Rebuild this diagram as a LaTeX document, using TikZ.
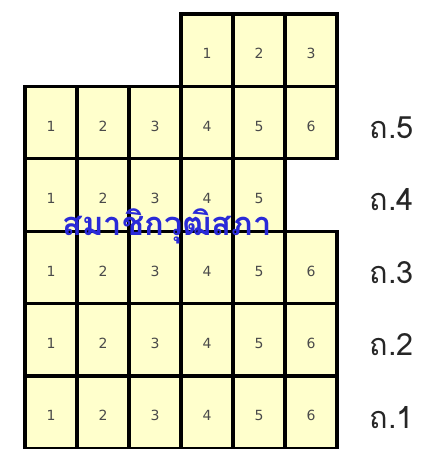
\documentclass[tikz,border=0pt]{standalone}
\usepackage{fontspec}
\newfontfamily\thaifont[Script=Thai]{Loma}
\newfontfamily\numfont{DejaVu Sans}
\usetikzlibrary{positioning}
\definecolor{cellfill}{HTML}{FFFFCC}
\definecolor{numgray}{HTML}{4A4A4A}
\definecolor{senateblue}{HTML}{2A2AD8}

\begin{document}
\begin{tikzpicture}[x=0.75pt, y=0.75pt,
  cell/.style={draw, line width=2.4pt, fill=cellfill, inner sep=0pt,
    minimum width=39pt, minimum height=54.3pt, text height=13pt, text depth=0pt,
    font=\numfont\fontsize{10.5}{12}\selectfont, text=numgray},
  floorlabel/.style={font=\thaifont\fontsize{23}{26}\selectfont,
    text=black!85, anchor=west}]
  \useasboundingbox (-25,-0.6) rectangle (399,448.4);

  % Top row (columns 4-6)
  \foreach \c in {1,2,3}
    \node[cell] (top\c) at ({52*(\c+3)-26}, {72.4*5.5}) {\c};

  % Floor 5
  \foreach \c in {1,...,6}
    \node[cell] (f5c\c) at ({52*\c-26}, {72.4*4.5}) {\c};

  % Floor 4
  \foreach \c in {1,...,5}
    \node[cell] (f4c\c) at ({52*\c-26}, {72.4*3.5}) {\c};

  % Floors 3, 2, 1
  \foreach \f/\y in {3/2.5, 2/1.5, 1/0.5}
    \foreach \c in {1,...,6}
      \node[cell] (f\f c\c) at ({52*\c-26}, {72.4*\y}) {\c};

  % Floor labels
  \node[floorlabel] (fl5) at (340, {72.4*4.5-5}) {ถ.5};
  \node[floorlabel] (fl4) at (340, {72.4*3.5-5}) {ถ.4};
  \node[floorlabel] (fl3) at (340, {72.4*2.5-5}) {ถ.3};
  \node[floorlabel] (fl2) at (340, {72.4*1.5-5}) {ถ.2};
  \node[floorlabel] (fl1) at (340, {72.4*0.5-5}) {ถ.1};

  % Overlay text
  \node[font=\thaifont\bfseries\fontsize{24.5}{28}\selectfont, text=senateblue]
    (senate) at (142, 222) {สมาชิกวุฒิสภา};
\end{tikzpicture}
\end{document}
